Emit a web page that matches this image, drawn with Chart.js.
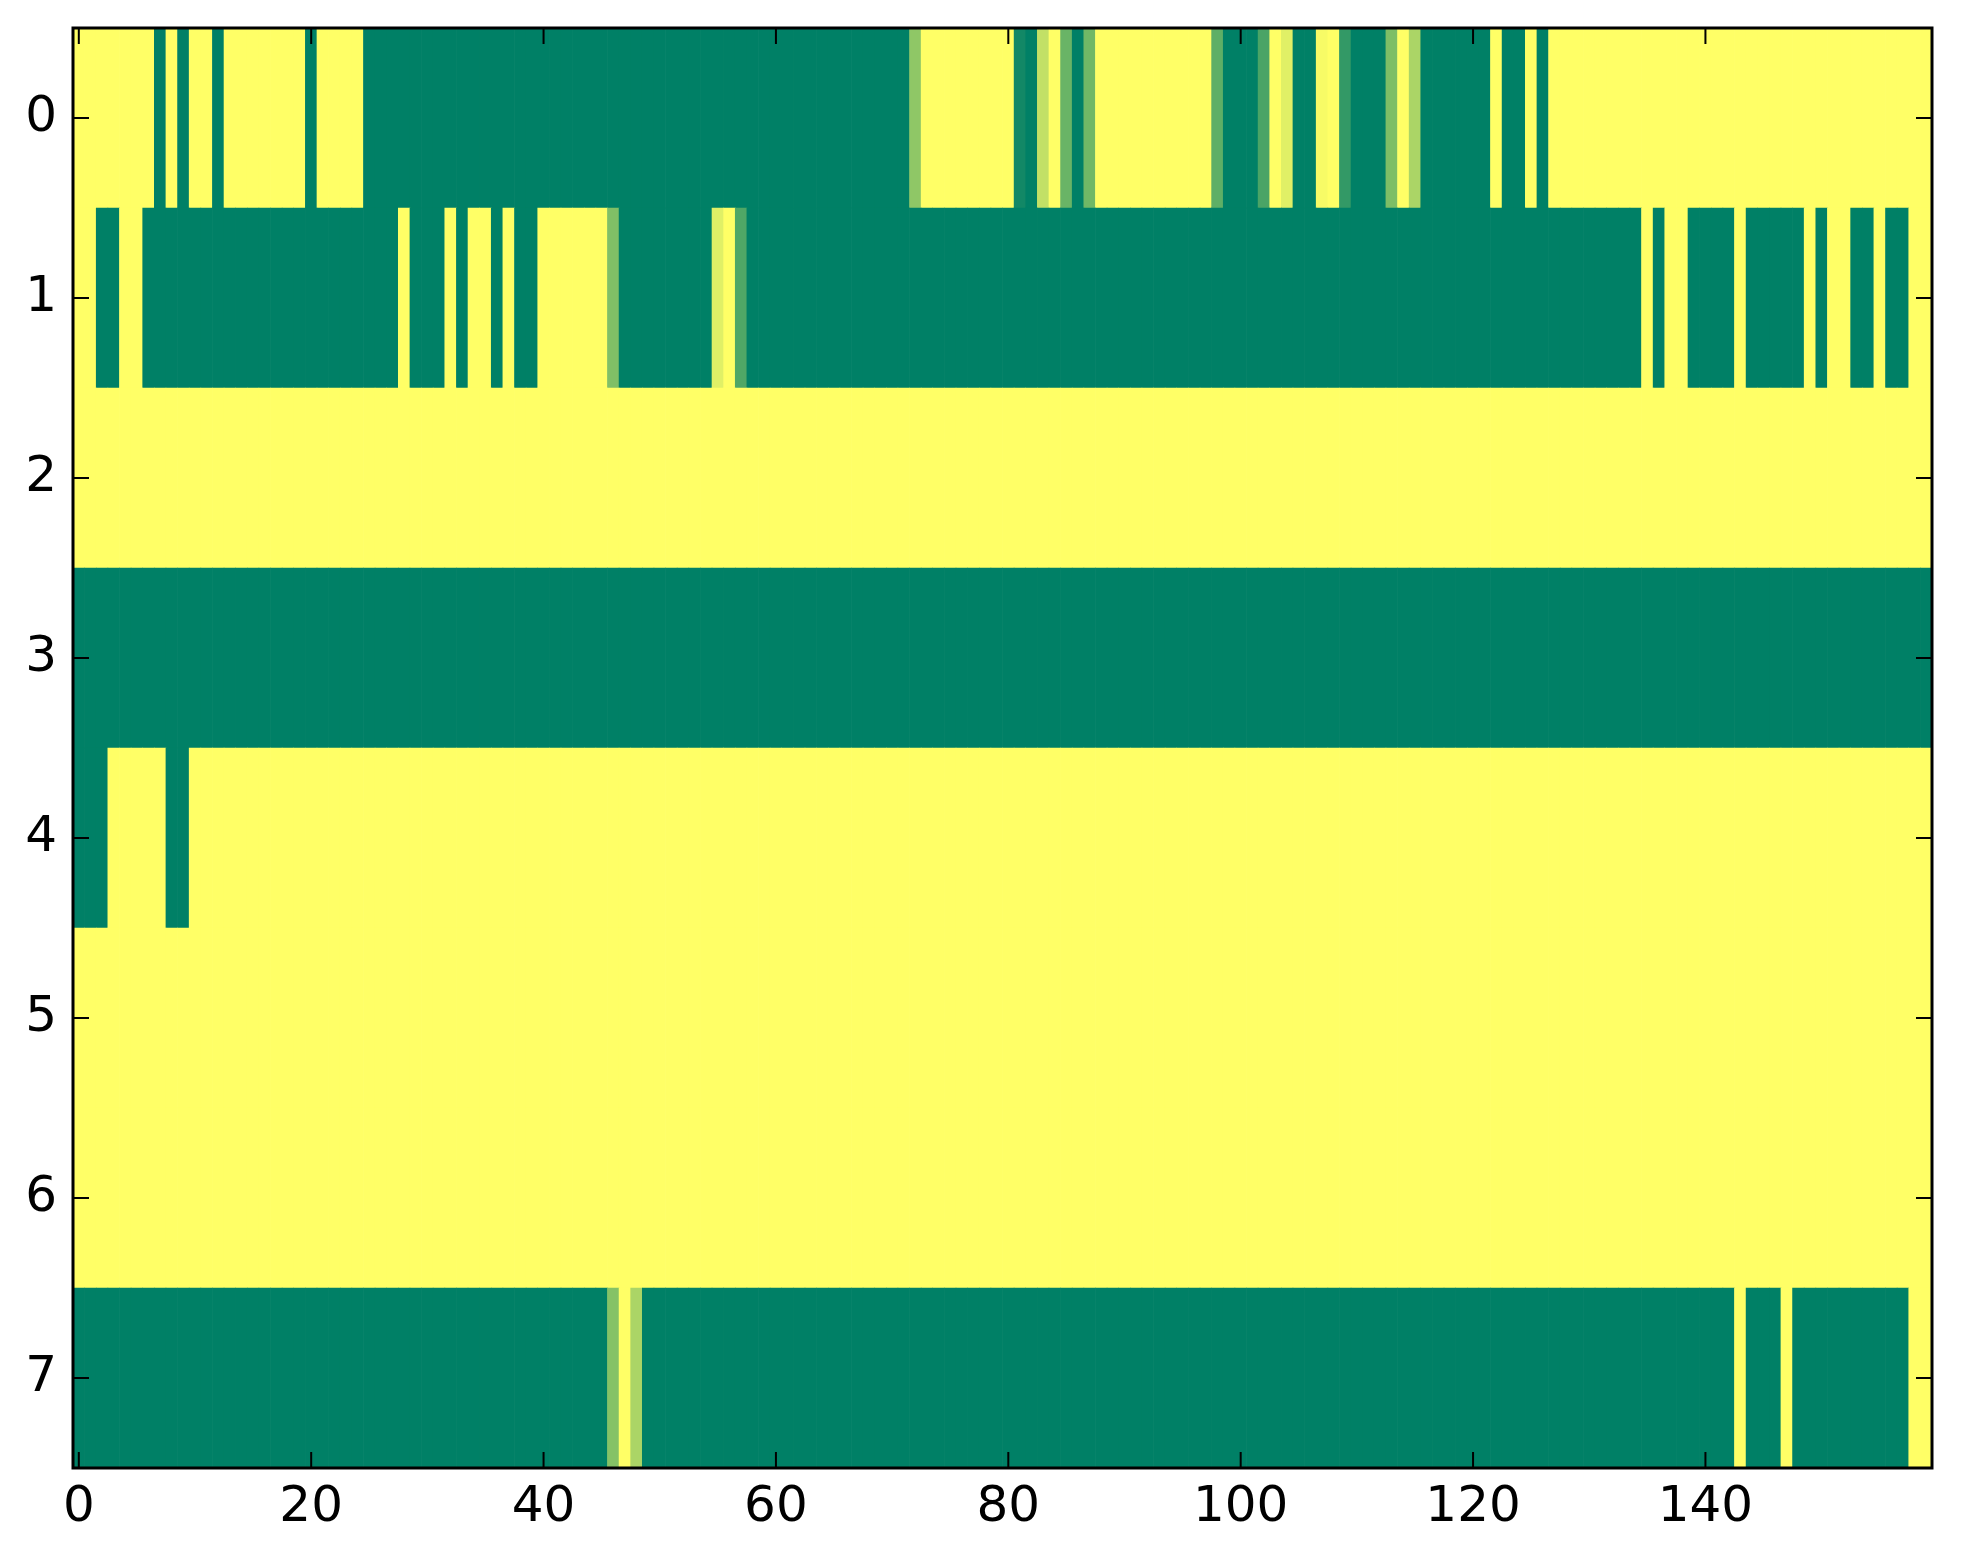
<!DOCTYPE html>
<html>
<head>
<meta charset="utf-8">
<script src="https://cdn.jsdelivr.net/npm/chart.js@4.4.1/dist/chart.umd.min.js"></script>
<style>
html,body{margin:0;padding:0;background:#fff;}
#c{display:block;}
</style>
</head>
<body>
<canvas id="c" width="1963" height="1564"></canvas>
<script>
// Row labels (y axis categories) and x tick labels
const rowLabels = ['0','1','2','3','4','5','6','7'];
const xTicks = [0, 20, 40, 60, 80, 100, 120, 140];
const xMin = -0.5, xMax = 159.5;

// Cell values per row (160 columns each, 0 = green, 1 = yellow)
const row0 = [
  1,1,1,1,1,1,1,0,1,0,1,1,0,1,1,1,1,1,1,1,
  0,1,1,1,1,0,0,0,0,0,0,0,0,0,0,0,0,0,0,0,
  0,0,0,0,0,0,0,0,0,0,0,0,0,0,0,0,0,0,0,0,
  0,0,0,0,0,0,0,0,0,0,0,0,0.56,1,1,1,1,1,1,1,
  1,0.07,0,0.76,1,0.41,0,0.44,1,1,1,1,1,1,1,1,1,1,0.37,0,
  0,0,0.29,1,0.88,0,0,0.97,1,0.2,0,0,0,0.49,1,0.67,0,0,0,0,
  0,0,1,0,0,1,0,1,1,1,1,1,1,1,1,1,1,1,1,1,
  1,1,1,1,1,1,1,1,1,1,1,1,1,1,1,1,1,1,1,1
];
const row1 = [
  1,1,0,0,1,1,0,0,0,0,0,0,0,0,0,0,0,0,0,0,
  0,0,0,0,0,0,0,0,1,0,0,0,1,0,1,1,0,1,0,0,
  1,1,1,1,1,1,0.5,0,0,0,0,0,0,0,0,0.88,1,0.31,0,0,
  0,0,0,0,0,0,0,0,0,0,0,0,0,0,0,0,0,0,0,0,
  0,0,0,0,0,0,0,0,0,0,0,0,0,0,0,0,0,0,0,0,
  0,0,0,0,0,0,0,0,0,0,0,0,0,0,0,0,0,0,0,0,
  0,0,0,0,0,0,0,0,0,0,0,0,0,0,0,1,0,1,1,0,
  0,0,0,1,0,0,0,0,0,1,0,1,1,0,0,1,0,0,1,1
];
const row2 = [
  1,1,1,1,1,1,1,1,1,1,1,1,1,1,1,1,1,1,1,1,
  1,1,1,1,1,1,1,1,1,1,1,1,1,1,1,1,1,1,1,1,
  1,1,1,1,1,1,1,1,1,1,1,1,1,1,1,1,1,1,1,1,
  1,1,1,1,1,1,1,1,1,1,1,1,1,1,1,1,1,1,1,1,
  1,1,1,1,1,1,1,1,1,1,1,1,1,1,1,1,1,1,1,1,
  1,1,1,1,1,1,1,1,1,1,1,1,1,1,1,1,1,1,1,1,
  1,1,1,1,1,1,1,1,1,1,1,1,1,1,1,1,1,1,1,1,
  1,1,1,1,1,1,1,1,1,1,1,1,1,1,1,1,1,1,1,1
];
const row3 = [
  0,0,0,0,0,0,0,0,0,0,0,0,0,0,0,0,0,0,0,0,
  0,0,0,0,0,0,0,0,0,0,0,0,0,0,0,0,0,0,0,0,
  0,0,0,0,0,0,0,0,0,0,0,0,0,0,0,0,0,0,0,0,
  0,0,0,0,0,0,0,0,0,0,0,0,0,0,0,0,0,0,0,0,
  0,0,0,0,0,0,0,0,0,0,0,0,0,0,0,0,0,0,0,0,
  0,0,0,0,0,0,0,0,0,0,0,0,0,0,0,0,0,0,0,0,
  0,0,0,0,0,0,0,0,0,0,0,0,0,0,0,0,0,0,0,0,
  0,0,0,0,0,0,0,0,0,0,0,0,0,0,0,0,0,0,0,0
];
const row4 = [
  0,0,0,1,1,1,1,1,0,0,1,1,1,1,1,1,1,1,1,1,
  1,1,1,1,1,1,1,1,1,1,1,1,1,1,1,1,1,1,1,1,
  1,1,1,1,1,1,1,1,1,1,1,1,1,1,1,1,1,1,1,1,
  1,1,1,1,1,1,1,1,1,1,1,1,1,1,1,1,1,1,1,1,
  1,1,1,1,1,1,1,1,1,1,1,1,1,1,1,1,1,1,1,1,
  1,1,1,1,1,1,1,1,1,1,1,1,1,1,1,1,1,1,1,1,
  1,1,1,1,1,1,1,1,1,1,1,1,1,1,1,1,1,1,1,1,
  1,1,1,1,1,1,1,1,1,1,1,1,1,1,1,1,1,1,1,1
];
const row5 = [
  1,1,1,1,1,1,1,1,1,1,1,1,1,1,1,1,1,1,1,1,
  1,1,1,1,1,1,1,1,1,1,1,1,1,1,1,1,1,1,1,1,
  1,1,1,1,1,1,1,1,1,1,1,1,1,1,1,1,1,1,1,1,
  1,1,1,1,1,1,1,1,1,1,1,1,1,1,1,1,1,1,1,1,
  1,1,1,1,1,1,1,1,1,1,1,1,1,1,1,1,1,1,1,1,
  1,1,1,1,1,1,1,1,1,1,1,1,1,1,1,1,1,1,1,1,
  1,1,1,1,1,1,1,1,1,1,1,1,1,1,1,1,1,1,1,1,
  1,1,1,1,1,1,1,1,1,1,1,1,1,1,1,1,1,1,1,1
];
const row6 = [
  1,1,1,1,1,1,1,1,1,1,1,1,1,1,1,1,1,1,1,1,
  1,1,1,1,1,1,1,1,1,1,1,1,1,1,1,1,1,1,1,1,
  1,1,1,1,1,1,1,1,1,1,1,1,1,1,1,1,1,1,1,1,
  1,1,1,1,1,1,1,1,1,1,1,1,1,1,1,1,1,1,1,1,
  1,1,1,1,1,1,1,1,1,1,1,1,1,1,1,1,1,1,1,1,
  1,1,1,1,1,1,1,1,1,1,1,1,1,1,1,1,1,1,1,1,
  1,1,1,1,1,1,1,1,1,1,1,1,1,1,1,1,1,1,1,1,
  1,1,1,1,1,1,1,1,1,1,1,1,1,1,1,1,1,1,1,1
];
const row7 = [
  0,0,0,0,0,0,0,0,0,0,0,0,0,0,0,0,0,0,0,0,
  0,0,0,0,0,0,0,0,0,0,0,0,0,0,0,0,0,0,0,0,
  0,0,0,0,0,0,0.52,1,0.67,0,0,0,0,0,0,0,0,0,0,0,
  0,0,0,0,0,0,0,0,0,0,0,0,0,0,0,0,0,0,0,0,
  0,0,0,0,0,0,0,0,0,0,0,0,0,0,0,0,0,0,0,0,
  0,0,0,0,0,0,0,0,0,0,0,0,0,0,0,0,0,0,0,0,
  0,0,0,0,0,0,0,0,0,0,0,0,0,0,0,0,0,0,0,0,
  0,0,0,1,0,0,0,1,0,0,0,0,0,0,0,0,0,0,1,1
];
const rows = [row0, row1, row2, row3, row4, row5, row6, row7];

// "summer" colormap
function summer(v) {
  const r = Math.round(255 * v);
  const g = Math.round(255 * (0.5 + v / 2));
  return 'rgb(' + r + ',' + g + ',102)';
}

const cells = [];
rows.forEach((vals, r) => {
  vals.forEach((v, c) => {
    cells.push({ x: [c - 0.5, c + 0.5], y: rowLabels[r], v: v });
  });
});

const FONT = { family: 'DejaVu Sans', size: 50 };

const framePlugin = {
  id: 'frameTicks',
  afterDatasetsDraw(chart) {
    const ctx = chart.ctx;
    const a = chart.chartArea;
    const xs = chart.scales.x, ys = chart.scales.y;
    const L = 16;
    ctx.save();
    ctx.strokeStyle = '#000';
    ctx.lineWidth = 2;
    ctx.beginPath();
    xs.ticks.forEach(t => {
      const px = xs.getPixelForValue(t.value);
      ctx.moveTo(px, a.bottom); ctx.lineTo(px, a.bottom - L);
      ctx.moveTo(px, a.top); ctx.lineTo(px, a.top + L);
    });
    ys.ticks.forEach((t, i) => {
      const py = ys.getPixelForTick(i);
      ctx.moveTo(a.left, py); ctx.lineTo(a.left + L, py);
      ctx.moveTo(a.right, py); ctx.lineTo(a.right - L, py);
    });
    ctx.stroke();
    ctx.lineWidth = 3;
    ctx.strokeRect(a.left, a.top, a.right - a.left, a.bottom - a.top);
    ctx.restore();
  }
};

new Chart(document.getElementById('c'), {
  type: 'bar',
  data: {
    labels: rowLabels,
    datasets: [{
      data: cells,
      backgroundColor: ctx => summer(ctx.raw ? ctx.raw.v : 0),
      borderWidth: 0,
      barPercentage: 1,
      categoryPercentage: 1
    }]
  },
  options: {
    indexAxis: 'y',
    responsive: false,
    animation: false,
    devicePixelRatio: 1,
    layout: { padding: { top: 28, right: 31, left: 0, bottom: 0 } },
    plugins: { legend: { display: false }, tooltip: { enabled: false } },
    scales: {
      x: {
        type: 'linear',
        min: xMin,
        max: xMax,
        afterBuildTicks: s => { s.ticks = xTicks.map(v => ({ value: v })); },
        afterFit: s => { s.height = 96; s.paddingLeft = 0; s.paddingRight = 0; },
        grid: { display: false, drawTicks: false },
        border: { display: false },
        ticks: { font: FONT, color: '#000', padding: 10, maxRotation: 0, autoSkip: false }
      },
      y: {
        type: 'category',
        labels: rowLabels,
        offset: true,
        afterFit: s => { s.width = 73; s.paddingTop = 0; s.paddingBottom = 0; },
        grid: { display: false, drawTicks: false },
        border: { display: false },
        ticks: { font: FONT, color: '#000', padding: 16, autoSkip: false }
      }
    }
  },
  plugins: [framePlugin]
});
</script>
</body>
</html>
